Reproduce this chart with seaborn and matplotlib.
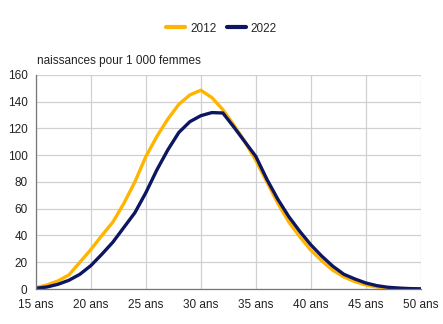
import matplotlib
matplotlib.use("Agg")
import matplotlib.pyplot as plt
import seaborn as sns
import pandas as pd

ages = list(range(15, 51))
taux_2012 = [1, 3, 6, 10.5, 20, 29.5, 40, 50, 64, 80, 99, 114, 127, 138, 145, 148.5,
             143, 134, 122.5, 110, 96, 80, 64, 50, 39, 29, 21, 14, 9, 5.5, 3, 1.5, 0.7, 0.3, 0.2, 0.1]
taux_2022 = [0.5, 1.5, 3.5, 6.5, 11, 17.5, 26, 35, 46, 57, 72, 89, 104, 117, 125, 129.5,
             131.8, 131.5, 121, 110, 99, 82, 67, 54, 43, 33, 24.5, 17, 11, 7.5, 4.5, 2.5, 1.3, 0.7, 0.3, 0.1]
series = ["2012", "2022"]
xticks = [15, 20, 25, 30, 35, 40, 45, 50]
xticklabels = ["15 ans", "20 ans", "25 ans", "30 ans", "35 ans", "40 ans", "45 ans", "50 ans"]
yticks = [0, 20, 40, 60, 80, 100, 120, 140, 160]

df = pd.DataFrame({
    "age": ages * 2,
    "taux": taux_2012 + taux_2022,
    "annee": [series[0]] * len(ages) + [series[1]] * len(ages),
})

sns.set_style("white")
plt.rcParams["font.family"] = ["Liberation Sans", "DejaVu Sans"]

fig = plt.figure(figsize=(4.43, 3.24), dpi=100)
ax = fig.add_axes([0.081, 0.108, 0.869, 0.661])

palette = {"2012": "#FFB500", "2022": "#0D1660"}
sns.lineplot(data=df, x="age", y="taux", hue="annee", palette=palette,
             linewidth=2.4, ax=ax, legend=False)

ax.set_xlim(15, 50)
ax.set_ylim(0, 160)
ax.set_xticks(xticks)
ax.set_xticklabels(xticklabels)
ax.set_yticks(yticks)
ax.set_xlabel("")
ax.set_ylabel("")
ax.grid(True, color="#D0D0D0", linewidth=0.9)
ax.set_axisbelow(True)
for s in ["top", "right"]:
    ax.spines[s].set_visible(False)
for s in ["left", "bottom"]:
    ax.spines[s].set_color("#777777")
    ax.spines[s].set_linewidth(0.9)
ax.tick_params(axis="both", labelsize=8.5, colors="#222222", length=4,
               color="#BBBBBB", width=0.8, pad=2)
ax.tick_params(axis="x", pad=3)

from matplotlib.lines import Line2D
handles = [Line2D([0], [0], color=palette[s], linewidth=3) for s in series]
fig.legend(handles, series, loc="center", bbox_to_anchor=(0.5, 0.912), ncol=2,
           frameon=False, fontsize=8.5, handlelength=1.6, handletextpad=0.4,
           columnspacing=0.9)

fig.text(0.084, 0.813, "naissances pour 1 000 femmes", fontsize=8.5, color="#222222",
         ha="left", va="center")

fig.savefig("out.png", dpi=100)
